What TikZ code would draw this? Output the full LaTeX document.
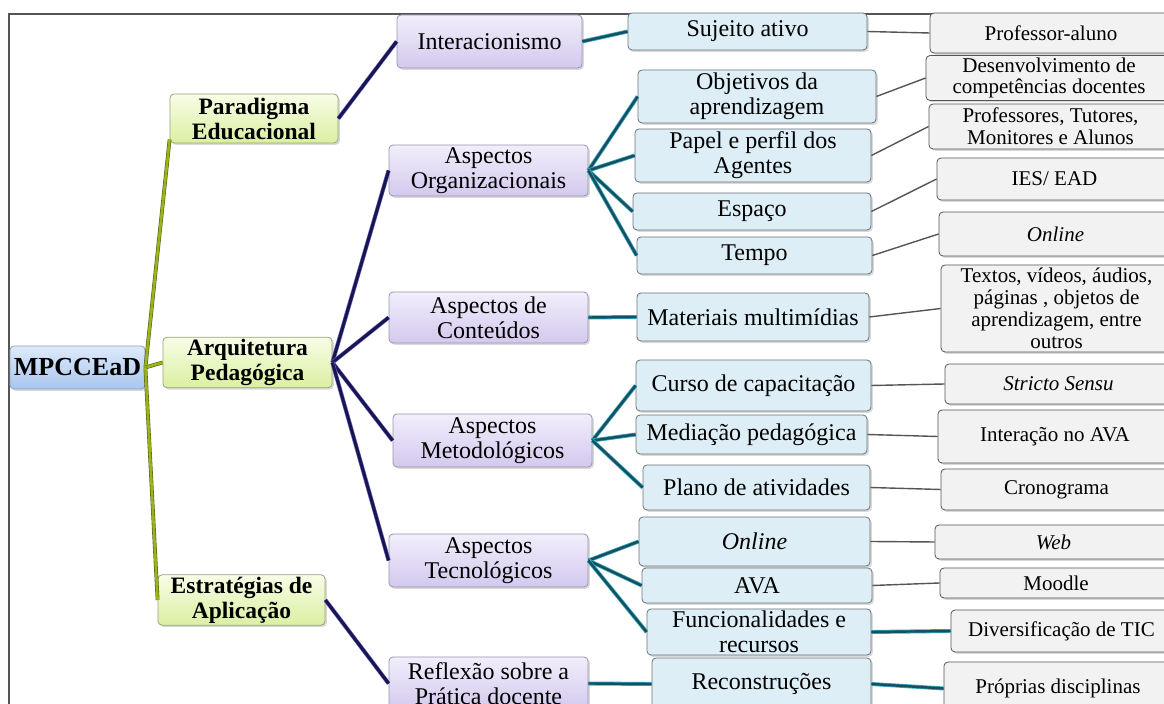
\documentclass[tikz,border=0pt]{standalone}
\usepackage{fontspec}
\setmainfont{Liberation Serif}
\usepackage{xcolor}
\usetikzlibrary{shadows}

\definecolor{frameline}{HTML}{555555}
\definecolor{coretop}{HTML}{DDEAFB}
\definecolor{corebot}{HTML}{A8C6EE}
\definecolor{coreedge}{HTML}{8DA2BE}
\definecolor{dimtop}{HTML}{F8FDE6}
\definecolor{dimbot}{HTML}{DBEFA2}
\definecolor{dimedge}{HTML}{9AA57A}
\definecolor{asptop}{HTML}{F2EEFB}
\definecolor{aspbot}{HTML}{D3C9EE}
\definecolor{aspedge}{HTML}{9A94AE}
\definecolor{elfill}{HTML}{DDEEF6}
\definecolor{eledge}{HTML}{6E7378}
\definecolor{detfill}{HTML}{F2F2F2}
\definecolor{detedge}{HTML}{555555}
\definecolor{trunkcol}{HTML}{9AB41E}
\definecolor{trunkedge}{HTML}{56650F}
\definecolor{branchcol}{HTML}{161650}
\definecolor{branchedge}{HTML}{7466C4}
\definecolor{twigcol}{HTML}{15505E}
\definecolor{twigedge}{HTML}{3AA6C0}
\definecolor{leafcol}{HTML}{555555}

\begin{document}
\begin{tikzpicture}[
    x=0.5pt, y=-0.5pt,
    tile/.style={rectangle, rounded corners=2pt, inner sep=1pt, align=center,
        drop shadow={shadow xshift=0.9pt, shadow yshift=-0.9pt, opacity=0.3}},
    sz/.style 2 args={minimum width=#1*0.5pt, minimum height=#2*0.5pt},
    core/.style={tile, draw=coreedge, top color=coretop, bottom color=corebot, font=\fontsize{13}{13.5}\selectfont\bfseries},
    dimension/.style={tile, draw=dimedge, top color=dimtop, bottom color=dimbot, font=\fontsize{11.75}{12.5}\selectfont\bfseries},
    aspect/.style={tile, draw=aspedge, top color=asptop, bottom color=aspbot, font=\fontsize{12}{12.5}\selectfont},
    element/.style={tile, draw=eledge, fill=elfill, font=\fontsize{12}{12.5}\selectfont},
    detail/.style={tile, draw=detedge, fill=detfill, font=\fontsize{10.5}{10.9}\selectfont},
    trunk/.style={draw=trunkcol, line width=1.3pt, preaction={draw=trunkedge, line width=1.9pt}},
    branch/.style={draw=branchcol, line width=1.5pt, preaction={draw=branchedge, line width=2.1pt}},
    twig/.style={draw=twigcol, line width=1.2pt, preaction={draw=twigedge, line width=2pt}},
    leaf/.style={draw=leafcol, line width=0.7pt}
]
    \clip (0,0) rectangle (1164,704);
    \draw[frameline, line width=0.8pt] (9,730) -- (9,14) -- (1190,14);

    % root and dimensions
    \node[core, sz={135}{43}] (root) at (77.5,367.5) {MPCCEaD};
    \node[dimension, sz={168}{49}] (par) at (254,118.5) {Paradigma\\Educacional};
    \node[dimension, sz={169}{49}] (arq) at (247.5,362.5) {Arquitetura\\Pedagógica};
    \node[dimension, sz={167}{50}] (est) at (241.5,600) {Estratégias de\\Aplicação};

    % aspects
    \node[aspect, sz={185}{53}] (inter) at (489.5,41.5) {Interacionismo};
    \node[aspect, sz={199}{51}] (org) at (488.5,170.5) {Aspectos\\Organizacionais};
    \node[aspect, sz={199}{51}] (cont) at (488.5,317.5) {Aspectos de\\Conteúdos};
    \node[aspect, sz={199}{53}] (met) at (492.5,440.5) {Aspectos\\Metodológicos};
    \node[aspect, sz={199}{53}] (tec) at (488.5,560.5) {Aspectos\\Tecnológicos};
    \node[aspect, sz={199}{53}] (refl) at (488.5,683.5) {Reflexão sobre a\\Prática docente};

    % elements
    \node[element, sz={239}{37}] (suj) at (747.5,31.5) {Sujeito ativo};
    \node[element, sz={238}{53}] (obj) at (757,96.5) {Objetivos da\\aprendizagem};
    \node[element, sz={236}{53}] (pap) at (753,155.5) {Papel e perfil dos\\Agentes};
    \node[element, sz={238}{37}] (esp) at (752,211.5) {Espaço};
    \node[element, sz={235}{37}] (tem) at (754.5,255.5) {Tempo};
    \node[element, sz={232}{48}] (mat) at (753,317) {Materiais multimídias};
    \node[element, sz={235}{51}] (cur) at (753.5,385.5) {Curso de capacitação};
    \node[element, sz={231}{39}] (med) at (751.5,434.5) {Mediação pedagógica};
    \node[element, sz={227}{45}] (pla) at (756.5,487.5) {Plano de atividades};
    \node[element, sz={231}{49}] (onl) at (754.5,541.5) {\itshape Online};
    \node[element, sz={230}{35}] (ava) at (757,585.5) {AVA};
    \node[element, sz={224}{46}] (fun) at (759,632) {Funcionalidades e\\recursos};
    \node[element, sz={219}{52}] (rec) at (761.5,684) {Reconstruções};

    % details
    \node[detail, sz={242}{40}] (pal) at (1051,33) {Professor-aluno};
    \node[detail, sz={246}{44}] (des) at (1049,78) {Desenvolvimento de\\competências docentes};
    \node[detail, sz={243}{45}] (pro) at (1050.5,126.5) {Professores, Tutores,\\Monitores e Alunos};
    \node[detail, sz={235}{42}] (ies) at (1054.5,179) {IES/ EAD};
    \node[detail, sz={233}{44}] (onx) at (1055.5,234) {\itshape Online};
    \node[detail, sz={231}{87}] (txt) at (1056.5,308.5) {Textos, vídeos, áudios,\\páginas , objetos de\\aprendizagem, entre\\outros};
    \node[detail, sz={227}{40}] (str) at (1058.5,384) {\itshape Stricto Sensu};
    \node[detail, sz={234}{53}] (itr) at (1055,436.5) {Interação no AVA};
    \node[detail, sz={231}{41}] (cro) at (1056.5,489.5) {Cronograma};
    \node[detail, sz={237}{34}] (web) at (1053.5,542) {\itshape Web};
    \node[detail, sz={232}{30}] (moo) at (1056,583) {Moodle};
    \node[detail, sz={221}{42}] (div) at (1061.5,631) {Diversificação de TIC};
    \node[detail, sz={228}{53}] (pdi) at (1058,688.5) {Próprias disciplinas};

    \draw[trunk] (root.east) -- (par.194);
    \draw[trunk] (root.east) -- (arq.west);
    \draw[trunk] (root.east) -- (est.west);

    \draw[branch] (par.east) -- (inter.west);
    \draw[branch] (arq.east) -- (org.west);
    \draw[branch] (arq.east) -- (cont.west);
    \draw[branch] (arq.east) -- (met.west);
    \draw[branch] (arq.east) -- (tec.west);
    \draw[branch] (est.east) -- (refl.west);

    \draw[twig] (inter.east) -- (suj.west);
    \draw[twig] (org.east) -- (obj.west);
    \draw[twig] (org.east) -- (pap.west);
    \draw[twig] (org.east) -- (esp.west);
    \draw[twig] (org.east) -- (tem.west);
    \draw[twig] (cont.east) -- (mat.west);
    \draw[twig] (met.east) -- (cur.west);
    \draw[twig] (met.east) -- (med.west);
    \draw[twig] (met.east) -- (pla.west);
    \draw[twig] (tec.east) -- (onl.west);
    \draw[twig] (tec.east) -- (ava.west);
    \draw[twig] (tec.east) -- (fun.west);
    \draw[twig] (refl.east) -- (rec.west);

    \draw[leaf] (suj.east) -- (pal.west);
    \draw[leaf] (obj.east) -- (des.west);
    \draw[leaf] (pap.east) -- (pro.west);
    \draw[leaf] (esp.east) -- (ies.west);
    \draw[leaf] (tem.east) -- (onx.west);
    \draw[leaf] (mat.east) -- (txt.west);
    \draw[leaf] (cur.east) -- (str.west);
    \draw[leaf] (med.east) -- (itr.west);
    \draw[leaf] (pla.east) -- (cro.west);
    \draw[leaf] (onl.east) -- (web.west);
    \draw[leaf] (ava.east) -- (moo.west);
    \draw[twig] (fun.east) -- (div.west);
    \draw[twig] (rec.east) -- (pdi.west);
\end{tikzpicture}
\end{document}
